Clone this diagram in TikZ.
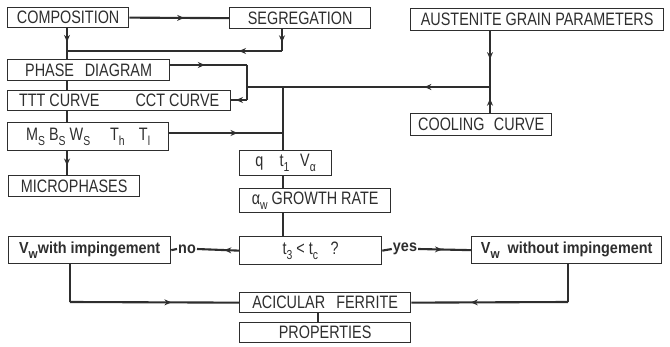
\documentclass[tikz,border=0pt]{standalone}
\usepackage{fontspec}
\setmainfont{Liberation Sans}
\newfontfamily\lab[FakeStretch=0.8]{Liberation Sans}
\newfontfamily\lowf[FakeStretch=0.9]{Liberation Sans}
\usetikzlibrary{arrows.meta,decorations.markings}
\definecolor{ink}{HTML}{2e2e2e}
\newcommand{\lsub}[1]{\raisebox{-0.5ex}{\fontsize{13pt}{13pt}\selectfont #1}}
\begin{document}
\begin{tikzpicture}[x=1pt,y=-1pt,
  box/.style={draw=ink,line width=1.3pt,inner sep=0pt,anchor=north west,text=ink,
    font=\lab\fontsize{18pt}{18pt}\selectfont},
  lowbox/.style={box,font=\lowf\bfseries\fontsize{16pt}{16pt}\selectfont},
  conn/.style={draw=ink,line width=2.1pt},
  lbl/.style={inner sep=1pt,text=ink,font=\lowf\bfseries\fontsize{16pt}{16pt}\selectfont},
  midarr/.style={postaction={decorate},decoration={markings,
    mark=at position #1 with {\arrow{Stealth[length=7pt,width=6pt]}}}}
]
\useasboundingbox (0,0) rectangle (670,347);
\fill[white] (0,0) rectangle (670,347);

% boxes
\node[box,minimum width=121pt,minimum height=20pt] (comp) at (7,7) {COMPOSITION};
\node[box,minimum width=141pt,minimum height=21pt] (seg) at (229,7) {SEGREGATION};
\node[box,minimum width=253pt,minimum height=22pt] (aus) at (410,8) {AUSTENITE GRAIN PARAMETERS};
\node[box,minimum width=162pt,minimum height=21pt] (phase) at (7,59) {PHASE\hspace{0.6em}DIAGRAM};
\node[box,minimum width=223pt,minimum height=20pt] (ttt) at (7,90) {TTT CURVE\hspace{2em}CCT CURVE\hspace{0.6em}};
\node[box,minimum width=141pt,minimum height=22pt] (cool) at (410,113) {COOLING\hspace{0.3em} CURVE};
\node[box,minimum width=161pt,minimum height=28pt] (ms) at (7,122)
  {M\lsub{S} B\lsub{S} W\lsub{S}\hspace{1.1em}T\lsub{h}\hspace{0.8em}T\lsub{l}};
\node[box,minimum width=131pt,minimum height=21pt] (micro) at (8,175) {MICROPHASES};
\node[box,minimum width=92pt,minimum height=25pt] (q) at (239,150)
  {q\hspace{0.9em}t\lsub{1}\hspace{0.6em}V\lsub{α}};
\node[box,minimum width=151pt,minimum height=24pt] (grow) at (239,188) {α\lsub{w} GROWTH RATE};
\node[box,minimum width=142pt,minimum height=28pt] (t3) at (239,236) {t\lsub{3} < t\lsub{c}\hspace{0.7em}?};
\node[lowbox,minimum width=162pt,minimum height=27pt] (vwi) at (8,236) {V\lsub{w}with impingement};
\node[lowbox,minimum width=190pt,minimum height=27pt] (vwo) at (471,236) {V\lsub{w}\hspace{0.5em}without impingement};
\node[box,minimum width=171pt,minimum height=20pt] (acic) at (239,292) {ACICULAR\hspace{0.4em} FERRITE};
\node[box,minimum width=171pt,minimum height=20pt] (prop) at (239,322) {PROPERTIES};

% junction coordinates
\coordinate (j1) at (67,51);
\coordinate (j2) at (282,51);
\coordinate (j3) at (247,65);
\coordinate (j4) at (247,100);
\coordinate (j5) at (247,87);
\coordinate (j6) at (490,87);
\coordinate (j7) at (283,87);
\coordinate (j8) at (283,133);
\coordinate (j9) at (70,302);
\coordinate (j10) at (568,302);
\coordinate (j11) at (318,302);

% connectors
\draw[conn,midarr=0.55] (comp.east) -- (seg.west);
\draw[conn,midarr=0.6] (j1 |- comp.south) -- (j1);
\draw[conn] (j1) -- (j1 |- phase.north);
\draw[conn,midarr=0.6] (j2 |- seg.south) -- (j2);
\draw[conn,midarr=0.2] (j2) -- (j1);
\draw[conn] (j1 |- phase.south) -- (j1 |- ttt.north);
\draw[conn,midarr=0.45] (j3 -| phase.east) -- (j3);
\draw[conn] (j3) -- (j4);
\draw[conn,midarr=0.7] (j4) -- (j4 -| ttt.east);
\draw[conn,midarr=0.27] (j6) -- (j5);
\draw[conn,midarr=0.5] (j6 |- aus.south) -- (j6);
\draw[conn,midarr=0.55] (j6 |- cool.north) -- (j6);
\draw[conn] (j7) -- (j7 |- q.north);
\draw[conn,midarr=0.6] (j8 -| ms.east) -- (j8);
\draw[conn] (j1 |- ttt.south) -- (j1 |- ms.north);
\draw[conn,midarr=0.6] (j1 |- ms.south) -- (j1 |- micro.north);
\draw[conn] (j7 |- q.south) -- (j7 |- grow.north);
\draw[conn] (j7 |- grow.south) -- (j7 |- t3.north);

\node[lbl,anchor=center] (no) at (187,249) {no};
\draw[conn,midarr=0.35] (t3.west) -- (no.east);
\draw[conn] (no.west) -- (vwi.east);
\node[lbl,anchor=center] (yes) at (405,249) {yes};
\draw[conn] (t3.east) -- (yes.west);
\draw[conn,midarr=0.45] (yes.east) -- (vwo.west);

\draw[conn] (j9 |- vwi.south) -- (j9);
\draw[conn,midarr=0.6] (j9) -- (acic.west);
\draw[conn] (j10 |- vwo.south) -- (j10);
\draw[conn,midarr=0.62] (j10) -- (acic.east);
\draw[conn,line width=1.3pt] (j11 |- acic.south) -- (j11 |- prop.north);
\end{tikzpicture}
\end{document}
